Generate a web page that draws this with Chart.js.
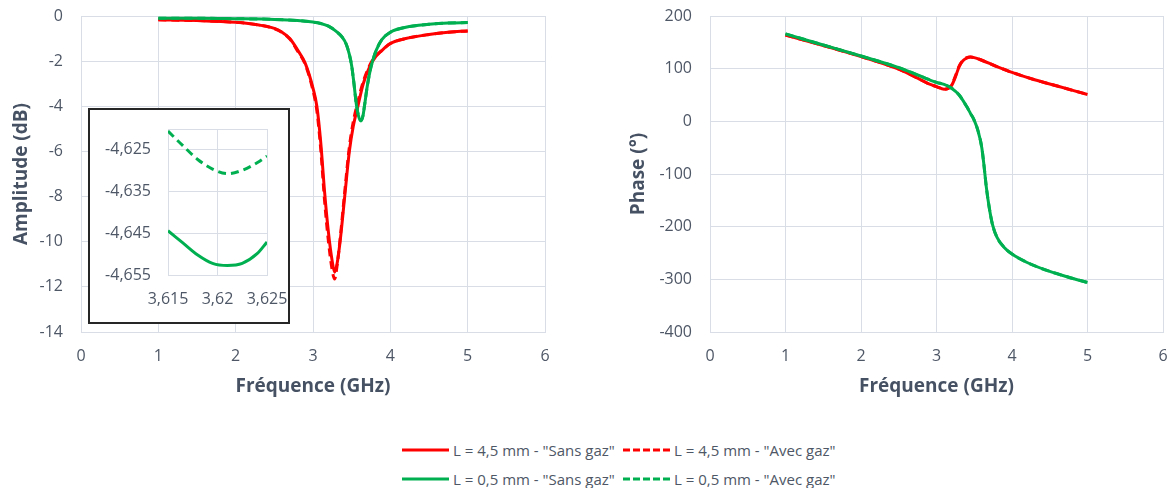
<!DOCTYPE html>
<html><head><meta charset="utf-8">
<script src="https://cdn.jsdelivr.net/npm/chart.js@4/dist/chart.umd.min.js"></script>
<style>
html,body{margin:0;padding:0;background:#fff;}
body{width:1171px;height:488px;position:relative;overflow:hidden;font-family:"Open Sans",sans-serif;}
canvas{position:absolute;display:block;}
#left{left:0;top:0;}
#right{left:600px;top:0;}
#insetBox{position:absolute;left:88px;top:108px;width:202px;height:216px;box-sizing:border-box;border:2px solid #262626;background:#fff;}
#inset{left:0;top:0;}
.leg{position:absolute;display:flex;align-items:center;height:20px;font-size:15px;line-height:20px;color:#4e5766;white-space:nowrap;}
.leg span{margin-left:4px;}
</style>
</head>
<body>
<canvas id="left" width="560" height="400"></canvas>
<canvas id="right" width="571" height="400"></canvas>
<div id="insetBox"><canvas id="inset" width="198" height="212"></canvas></div>
<div id="legend"></div>
<script>
// ---------- data ----------
const freqTicks = [0, 1, 2, 3, 4, 5, 6];
const ampTicks = [0, -2, -4, -6, -8, -10, -12, -14];
const phaseTicks = [200, 100, 0, -100, -200, -300, -400];
const insetFreqTicks = [3.615, 3.62, 3.625];
const insetAmpTicks = [-4.655, -4.645, -4.635, -4.625];

const seriesLabels = ['L = 4,5 mm - "Sans gaz"', 'L = 4,5 mm - "Avec gaz"', 'L = 0,5 mm - "Sans gaz"', 'L = 0,5 mm - "Avec gaz"'];

// Amplitude, L = 4,5 mm
const ampFreqRed = [1.0, 1.5, 2.0, 2.3, 2.5, 2.6, 2.7, 2.8, 2.9, 3.0, 3.05, 3.1, 3.15, 3.2, 3.25, 3.28, 3.31, 3.35, 3.41, 3.47, 3.52, 3.58, 3.65, 3.77, 3.9, 4.0, 4.2, 4.5, 4.75, 5.0];
const ampRedSans = [-0.17, -0.2, -0.28, -0.4, -0.55, -0.72, -1.0, -1.5, -2.1, -3.2, -4.0, -5.6, -7.8, -9.6, -10.9, -11.35, -11.0, -10.0, -8.0, -6.0, -4.9, -4.0, -3.0, -2.0, -1.5, -1.22, -1.0, -0.82, -0.72, -0.66];
const ampRedAvec = [-0.17, -0.2, -0.28, -0.4, -0.56, -0.73, -1.02, -1.55, -2.15, -3.3, -4.2, -5.9, -8.2, -10.0, -11.3, -11.65, -11.1, -9.9, -7.8, -5.8, -4.7, -3.8, -2.9, -1.95, -1.5, -1.22, -1.0, -0.82, -0.72, -0.66];

// Amplitude, L = 0,5 mm
const ampFreqGreen = [1.0, 1.5, 2.0, 2.5, 2.8, 3.0, 3.1, 3.2, 3.3, 3.38, 3.43, 3.47, 3.5, 3.53, 3.56, 3.59, 3.62, 3.645, 3.665, 3.7, 3.74, 3.77, 3.82, 3.89, 4.0, 4.2, 4.5, 4.75, 5.0];
const ampGreenSans = [-0.1, -0.1, -0.12, -0.15, -0.2, -0.27, -0.33, -0.45, -0.68, -0.95, -1.25, -1.7, -2.2, -3.0, -3.9, -4.45, -4.65, -4.45, -4.0, -3.15, -2.4, -2.0, -1.5, -1.05, -0.72, -0.5, -0.37, -0.31, -0.29];
const ampGreenAvec = [-0.1, -0.1, -0.12, -0.15, -0.2, -0.27, -0.33, -0.45, -0.68, -0.95, -1.25, -1.7, -2.2, -3.0, -3.9, -4.43, -4.63, -4.43, -4.0, -3.15, -2.4, -2.0, -1.5, -1.05, -0.72, -0.5, -0.37, -0.31, -0.29];

// Phase, L = 4,5 mm
const phaseFreqRed = [1.0, 1.5, 2.0, 2.5, 2.75, 2.9, 3.0, 3.1, 3.15, 3.2, 3.25, 3.3, 3.35, 3.4, 3.45, 3.5, 3.6, 3.8, 4.0, 4.3, 4.6, 5.0];
const phaseRedSans = [164, 144, 123, 99, 82, 71, 66, 61, 62, 68, 84, 104, 115, 120, 122, 121, 116, 104, 93, 79, 67, 51];
const phaseRedAvec = [164, 144, 123, 99, 82, 71, 66, 61, 62, 69, 86, 105, 116, 121, 122, 121, 116, 104, 93, 79, 67, 51];

// Phase, L = 0,5 mm
const phaseFreqGreen = [1.0, 1.5, 2.0, 2.5, 2.75, 3.0, 3.1, 3.2, 3.3, 3.4, 3.45, 3.5, 3.55, 3.6, 3.63, 3.66, 3.7, 3.74, 3.8, 3.9, 4.0, 4.2, 4.5, 4.75, 5.0];
const phaseGreenSans = [166, 145, 124, 102, 88, 74, 70, 63, 50, 28, 15, 2, -18, -50, -85, -125, -165, -195, -220, -240, -252, -268, -285, -296, -306];
const phaseGreenAvec = [166, 145, 124, 102, 88, 74, 70, 63, 50, 28, 15, 2, -18, -50, -85, -125, -165, -195, -220, -240, -252, -268, -285, -296, -306];

// Inset (zoom on the 0,5 mm minimum)
const insetFreq = [3.615, 3.6165, 3.618, 3.6195, 3.621, 3.6225, 3.624, 3.625];
const insetSans = [-4.6444, -4.6473, -4.6502, -4.6522, -4.6527, -4.6522, -4.6499, -4.6471];
const insetAvec = [-4.6205, -4.6240, -4.6273, -4.6296, -4.6307, -4.6299, -4.6281, -4.6265];

// ---------- styling ----------
const RED = '#ff0000', GREEN = '#00b050';
const GRID = '#d9dde5', TXT = '#4e5766', TTL = '#465264';
const FAM = '"Open Sans", sans-serif';
const DASH = [8, 5];

function pts(xs, ys) { return xs.map((x, i) => ({x: x, y: ys[i]})); }
function fmt(v) { return String(parseFloat(Number(v).toFixed(4))).replace('.', ','); }
function ds(label, xs, ys, color, dashed, order) {
  return {label, data: pts(xs, ys), borderColor: color, backgroundColor: color, borderWidth: 3,
    borderDash: dashed ? DASH : [], pointRadius: 0, fill: false, cubicInterpolationMode: 'monotone', order};
}
// gap between axis and labels through an invisible tick mark (keeps layout padding untouched)
function gridWithGap(gap) {
  return {color: GRID, lineWidth: 1, drawTicks: true, tickLength: gap, tickColor: 'rgba(0,0,0,0)'};
}

function mainOptions(cfg) {
  return {
    responsive: false, animation: false,
    layout: {padding: {left: 0, right: cfg.padRight, top: 16, bottom: 0}},
    plugins: {legend: {display: false}, tooltip: {enabled: false}},
    scales: {
      x: {
        type: 'linear', min: 0, max: 6,
        afterBuildTicks: s => { s.ticks = freqTicks.map(v => ({value: v})); },
        afterFit: s => { s.height = 68; },
        grid: gridWithGap(15),
        border: {color: GRID},
        ticks: {color: TXT, font: {family: FAM, size: 16}, padding: 0, callback: v => fmt(v)},
        title: {display: true, text: 'Fréquence (GHz)', color: TTL, font: {family: FAM, size: 19, weight: 'bold'}, padding: {top: 0, bottom: 2}}
      },
      y: {
        type: 'linear', min: cfg.min, max: cfg.max,
        afterBuildTicks: s => { s.ticks = cfg.ticks.map(v => ({value: v})); },
        afterFit: s => { s.width = cfg.yWidth; },
        grid: gridWithGap(18),
        border: {color: GRID},
        ticks: {color: TXT, font: {family: FAM, size: 16}, padding: 0, callback: v => fmt(v)},
        title: {display: true, text: cfg.title, color: TTL, font: {family: FAM, size: 19, weight: 'bold'}, padding: {top: cfg.titlePad, bottom: 0}}
      }
    }
  };
}

new Chart(document.getElementById('left'), {
  type: 'line',
  data: {datasets: [
    ds(seriesLabels[0], ampFreqRed, ampRedSans, RED, false, 3),
    ds(seriesLabels[1], ampFreqRed, ampRedAvec, RED, true, 2),
    ds(seriesLabels[2], ampFreqGreen, ampGreenSans, GREEN, false, 1),
    ds(seriesLabels[3], ampFreqGreen, ampGreenAvec, GREEN, true, 0)
  ]},
  options: mainOptions({padRight: 15, min: -14, max: 0, ticks: ampTicks, yWidth: 81, title: 'Amplitude (dB)', titlePad: 10})
});

new Chart(document.getElementById('right'), {
  type: 'line',
  data: {datasets: [
    ds(seriesLabels[0], phaseFreqRed, phaseRedSans, RED, false, 3),
    ds(seriesLabels[1], phaseFreqRed, phaseRedAvec, RED, true, 2),
    ds(seriesLabels[2], phaseFreqGreen, phaseGreenSans, GREEN, false, 1),
    ds(seriesLabels[3], phaseFreqGreen, phaseGreenAvec, GREEN, true, 0)
  ]},
  options: mainOptions({padRight: 8, min: -400, max: 200, ticks: phaseTicks, yWidth: 110, title: 'Phase (°)', titlePad: 27})
});

new Chart(document.getElementById('inset'), {
  type: 'line',
  data: {datasets: [
    ds(seriesLabels[2], insetFreq, insetSans, GREEN, false, 1),
    ds(seriesLabels[3], insetFreq, insetAvec, GREEN, true, 0)
  ]},
  options: {
    responsive: false, animation: false,
    layout: {padding: {left: 0, right: 21, top: 19, bottom: 0}},
    plugins: {legend: {display: false}, tooltip: {enabled: false}},
    scales: {
      x: {
        type: 'linear', min: 3.615, max: 3.625,
        afterBuildTicks: s => { s.ticks = insetFreqTicks.map(v => ({value: v})); },
        afterFit: s => { s.height = 47; },
        grid: gridWithGap(15), border: {color: GRID},
        ticks: {color: TXT, font: {family: FAM, size: 16}, padding: 0, callback: v => fmt(v)}
      },
      y: {
        type: 'linear', min: -4.655, max: -4.62,
        afterBuildTicks: s => { s.ticks = insetAmpTicks.concat([s.max]).map(v => ({value: v})); },
        afterFit: s => { s.width = 78; },
        grid: gridWithGap(17), border: {color: GRID},
        ticks: {color: TXT, font: {family: FAM, size: 16}, padding: 0,
          callback: v => (Math.abs(v - (-4.62)) < 1e-9 ? '' : fmt(v))}
      }
    }
  }
});

// ---------- HTML legend ----------
const legendColors = [RED, RED, GREEN, GREEN];
const legendDashed = [false, true, false, true];
const legendPos = [[402, 440], [623, 440], [402, 469], [623, 469]];
const legendEl = document.getElementById('legend');
seriesLabels.forEach((lab, i) => {
  const d = document.createElement('div');
  d.className = 'leg';
  d.style.left = legendPos[i][0] + 'px';
  d.style.top = legendPos[i][1] + 'px';
  const dash = legendDashed[i] ? ' stroke-dasharray="7 3"' : '';
  d.innerHTML = '<svg width="47" height="6"><line x1="0" y1="3" x2="47" y2="3" stroke="' + legendColors[i] + '" stroke-width="3"' + dash + '/></svg>';
  const sp = document.createElement('span');
  sp.textContent = lab;
  d.appendChild(sp);
  legendEl.appendChild(d);
});
</script>
</body></html>
